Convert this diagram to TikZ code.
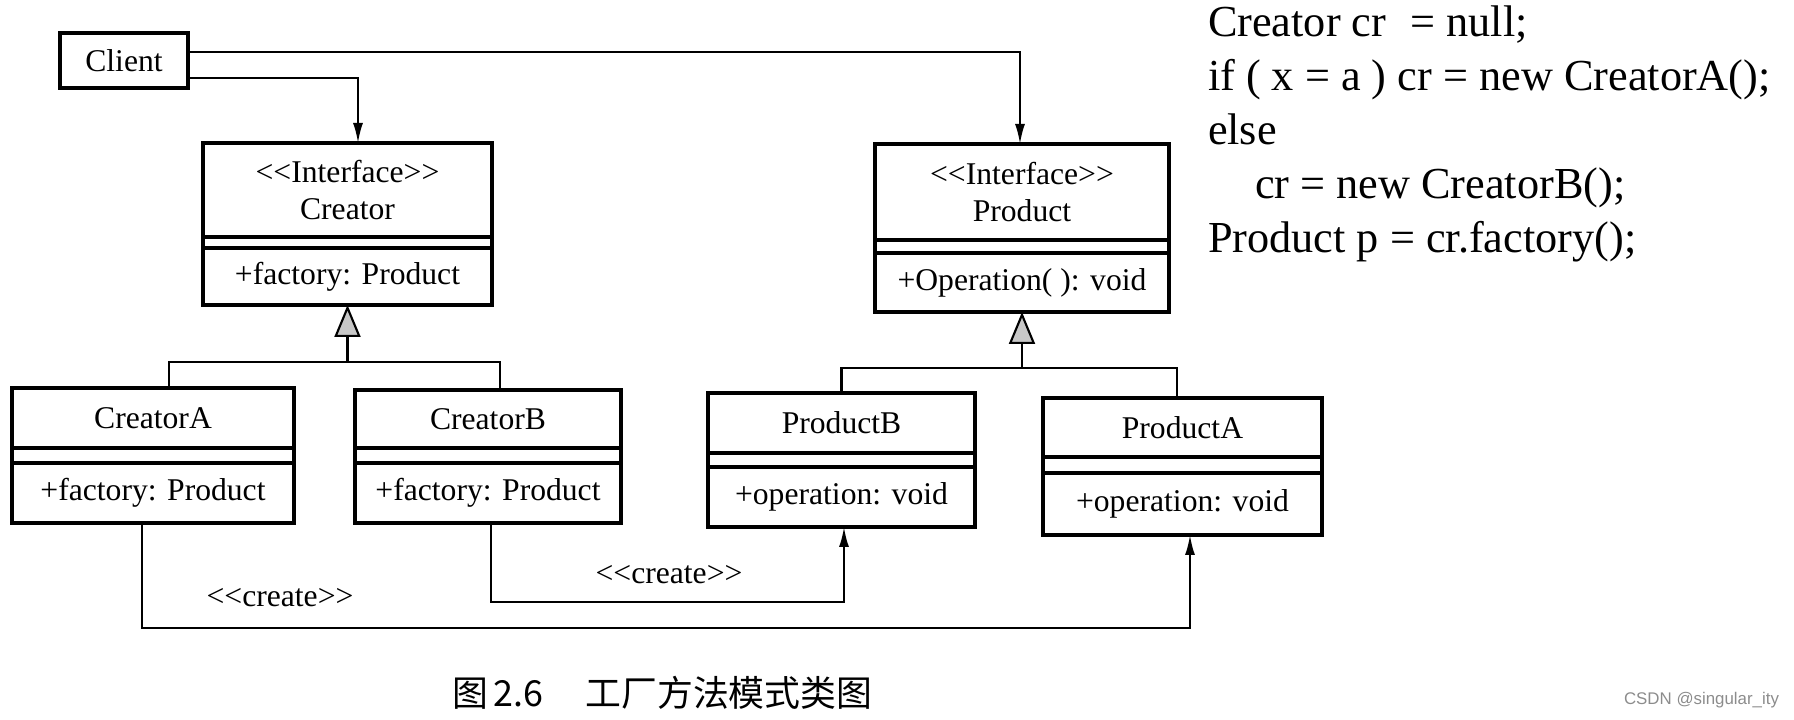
\documentclass[tikz,border=0pt]{standalone}
\usepackage{fontspec}
\setmainfont{Liberation Serif}
\newfontfamily\cjk{Noto Sans CJK SC}
\newfontfamily\marksans{Liberation Sans}
\usetikzlibrary{positioning}
\usetikzlibrary{calc}
\usetikzlibrary{arrows.meta}

% stereotype brackets, kept apart so they are not turned into guillemets
\newcommand\stereo[1]{\textless\kern0pt\textless#1\textgreater\kern0pt\textgreater}

\begin{document}
\begin{tikzpicture}[
    every node/.style={font=\fontsize{9}{10.6}\selectfont, outer sep=0pt},
    head/.style={draw, line width=0.9pt, align=center, inner sep=0pt},
    attr/.style={draw, line width=0.9pt, inner sep=0pt},
    ops/.style={draw, line width=0.9pt, inner sep=0pt},
    conn/.style={line width=0.6pt},
    dep/.style={line width=0.6pt, -{Latex[length=0.2cm, width=0.1cm]}},
    inherit/.style={line width=0.6pt, -{Triangle[length=0.32cm, width=0.26cm, fill=black!22]}}
  ]

        \useasboundingbox (0,0) rectangle (17.94,-7.20);

        \node[draw, line width=0.9pt, minimum width=1.28cm, minimum height=0.55cm] (client) at (1.24,-0.605) {Client};

        % interfaces
        \node[head, anchor=north west, minimum width=2.89cm, minimum height=0.94cm] (creator) at (2.03,-1.43) {\stereo{Interface}\\Creator};
        \node[attr, below=0pt of creator, minimum width=2.89cm, minimum height=0.11cm] (creatorAttr) {};
        \node[ops, below=0pt of creatorAttr, minimum width=2.89cm, minimum height=0.57cm] (creatorOps) {+factory: Product};

        \node[head, anchor=north west, minimum width=2.94cm, minimum height=0.96cm] (product) at (8.75,-1.44) {\stereo{Interface}\\Product};
        \node[attr, below=0pt of product, minimum width=2.94cm, minimum height=0.13cm] (productAttr) {};
        \node[ops, below=0pt of productAttr, minimum width=2.94cm, minimum height=0.59cm] (productOps) {+Operation(\ ): void};

        % concrete classes
        \node[head, anchor=north west, minimum width=2.82cm, minimum height=0.60cm] (creatorA) at (0.12,-3.88) {CreatorA};
        \node[attr, below=0pt of creatorA, minimum width=2.82cm, minimum height=0.15cm] (creatorAAttr) {};
        \node[ops, below=0pt of creatorAAttr, minimum width=2.82cm, minimum height=0.60cm] (creatorAOps) {+factory: Product};

        \node[head, anchor=north west, minimum width=2.66cm, minimum height=0.58cm] (creatorB) at (3.55,-3.90) {CreatorB};
        \node[attr, below=0pt of creatorB, minimum width=2.66cm, minimum height=0.15cm] (creatorBAttr) {};
        \node[ops, below=0pt of creatorBAttr, minimum width=2.66cm, minimum height=0.60cm] (creatorBOps) {+factory: Product};

        \node[head, anchor=north west, minimum width=2.67cm, minimum height=0.60cm] (productB) at (7.08,-3.93) {ProductB};
        \node[attr, below=0pt of productB, minimum width=2.67cm, minimum height=0.14cm] (productBAttr) {};
        \node[ops, below=0pt of productBAttr, minimum width=2.67cm, minimum height=0.60cm] (productBOps) {+operation: void};

        \node[head, anchor=north west, minimum width=2.79cm, minimum height=0.59cm] (productA) at (10.43,-3.98) {ProductA};
        \node[attr, below=0pt of productA, minimum width=2.79cm, minimum height=0.16cm] (productAAttr) {};
        \node[ops, below=0pt of productAAttr, minimum width=2.79cm, minimum height=0.62cm] (productAOps) {+operation: void};

        % client uses both interfaces
        \draw[dep] ([yshift=0.085cm]client.east) -| ([xshift=-0.02cm]product.north);
        \draw[dep] ([yshift=-0.175cm]client.east) -| ([xshift=0.105cm]creator.north);

        % generalisation
        \coordinate (creatorJoin) at ($(creatorOps.south)+(0,-0.57)$);
        \coordinate (productJoin) at ($(productOps.south)+(0,-0.56)$);

        \draw[conn] ([xshift=0.16cm]creatorA.north) |- (creatorJoin) -| ([xshift=0.12cm]creatorB.north);
        \draw[inherit] (creatorJoin) -- (creatorOps.south);

        \draw[conn] (productB.north) |- (productJoin) -| ([xshift=-0.055cm]productA.north);
        \draw[inherit] (productJoin) -- (productOps.south);

        % create
        \draw[dep] ([xshift=-0.11cm]creatorAOps.south) -- ++(0,-1.05) -| ([xshift=0.075cm]productAOps.south);
        \draw[dep] ([xshift=0.03cm]creatorBOps.south) -- ++(0,-0.79) -| ([xshift=0.025cm]productBOps.south);

        \node (createA) at (2.80,-5.98) {\stereo{create}};
        \node (createB) at (6.69,-5.75) {\stereo{create}};

        % client code
        \foreach \codeline [count=\i] in {{Creator cr\hspace{0.55em}= null;}, {if ( x = a ) cr = new CreatorA();}, {else}, {\hspace*{0.47cm}cr = new CreatorB();}, {Product p = cr.factory();}} {
          \node[anchor=base west, inner sep=0pt, font=\fontsize{12.6}{15}\selectfont] (code\i) at (12.08, {-0.37-0.54*(\i-1)}) {\codeline};
        }

        \node[anchor=west, inner sep=0pt, font=\cjk\fontsize{10.2}{12}\selectfont] (caption) at (4.52,-6.93) {图\hspace{0.06cm}2.6\hspace{0.42cm}工厂方法模式类图};
        \node[anchor=base east, inner sep=0pt, text=black!45, font=\marksans\fontsize{4.8}{5.8}\selectfont] (mark) at (17.79,-7.05) {CSDN @singular\_ity};

      \end{tikzpicture}
\end{document}
